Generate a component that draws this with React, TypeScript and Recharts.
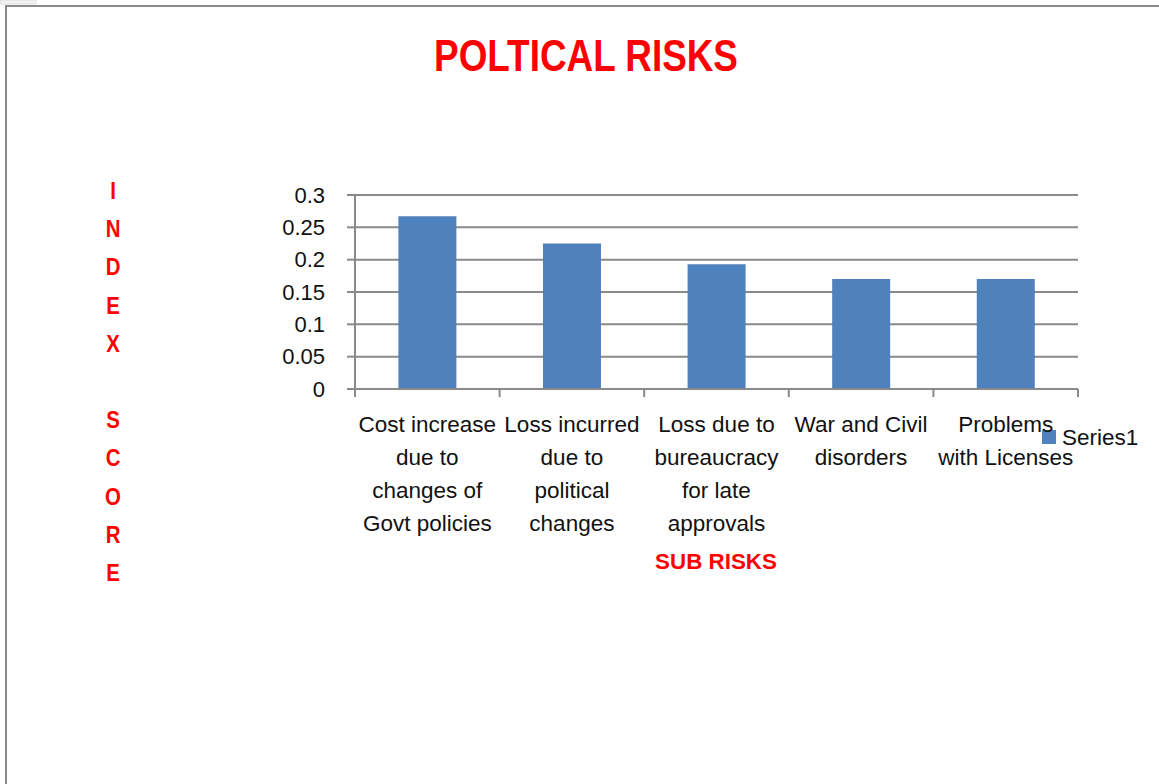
import React from "react";
import {
  BarChart,
  Bar,
  XAxis,
  YAxis,
  CartesianGrid,
  Customized,
} from "recharts";

// Sub-risk categories and their index scores
const categories = [
  "Cost increase due to changes of Govt policies",
  "Loss incurred due to political changes",
  "Loss due to bureaucracy for late approvals",
  "War and Civil disorders",
  "Problems with Licenses",
];
const indexScores = [0.267, 0.225, 0.193, 0.17, 0.17];
const yTicks = [0, 0.05, 0.1, 0.15, 0.2, 0.25, 0.3];

// Wrapped category labels, one entry per line
const categoryLines = [
  ["Cost increase", "due to", "changes of", "Govt policies"],
  ["Loss incurred", "due to", "political", "changes"],
  ["Loss due to", "bureaucracy", "for late", "approvals"],
  ["War and Civil", "disorders"],
  ["Problems", "with Licenses"],
];

const seriesName = "Series1";
const chartTitle = "POLTICAL RISKS";
const xTitle = "SUB RISKS";
const yTitle = "INDEX SCORE";

const data = categories.map((name, i) => ({ name, value: indexScores[i] }));

const W = 1159;
const H = 784;
const PLOT_LEFT = 355;
const PLOT_RIGHT = 1078;
const PLOT_TOP = 195;
const PLOT_BOTTOM = 389;
const Y_AXIS_W = 60;
const X_AXIS_H = 170;
const BAND = (PLOT_RIGHT - PLOT_LEFT) / categories.length;

const BAR_COLOR = "#4f81bd";
const AXIS_COLOR = "#8a8a8a";
const RED = "#ff0000";
const TEXT = "#111";
const FONT = "'Liberation Sans', Arial, sans-serif";

const XTick = (props: any) => {
  const { x, y, index } = props;
  const axisY = y - 8;
  const lines = categoryLines[index] || [];
  const last = index === categories.length - 1;
  return (
    <g>
      <line x1={x - BAND / 2} x2={x - BAND / 2} y1={axisY} y2={axisY + 8} stroke={AXIS_COLOR} strokeWidth={2} />
      {last && (
        <line x1={x + BAND / 2} x2={x + BAND / 2} y1={axisY} y2={axisY + 8} stroke={AXIS_COLOR} strokeWidth={2} />
      )}
      <text textAnchor="middle" fontFamily={FONT} fontSize={22.5} fill={TEXT}>
        {lines.map((l, i) => (
          <tspan key={i} x={x} y={axisY + 43 + i * 33}>
            {l}
          </tspan>
        ))}
      </text>
    </g>
  );
};

const Decorations = () => {
  const letters = yTitle.split("");
  return (
    <g>
      <rect x={0} y={0} width={36} height={4} fill="#f2f2f2" stroke="#e0e0e0" strokeWidth={1} />
      <line x1={5} y1={6} x2={W} y2={6} stroke={AXIS_COLOR} strokeWidth={2} />
      <line x1={6} y1={5} x2={6} y2={H} stroke={AXIS_COLOR} strokeWidth={2} />
      {/* condensed bold title */}
      <g transform="translate(586,71) scale(0.82,1)">
        <text x={0} y={0} textAnchor="middle" fontFamily={FONT} fontWeight="bold" fontSize={45} fill={RED}>
          {chartTitle}
        </text>
      </g>
      <text x={716} y={569} textAnchor="middle" fontFamily={FONT} fontWeight="bold" fontSize={22.4} fill={RED}>
        {xTitle}
      </text>
      <g transform="translate(113,0) scale(0.85,1)">
        <text textAnchor="middle" fontFamily={FONT} fontWeight="bold" fontSize={24} fill={RED}>
          {letters.map((ch, i) => (
            <tspan key={i} x={0} y={199 + i * 38.2}>
              {ch === " " ? "\u00a0" : ch}
            </tspan>
          ))}
        </text>
      </g>
      <rect x={1042} y={430} width={14} height={14} fill={BAR_COLOR} />
      <text x={1062} y={445} fontFamily={FONT} fontSize={22.5} fill={TEXT}>
        {seriesName}
      </text>
    </g>
  );
};

export default function App() {
  return (
    <div style={{ position: "absolute", left: 0, top: 0, width: W, height: H, background: "#fff" }}>
      <BarChart
        width={W}
        height={H}
        data={data}
        margin={{
          top: PLOT_TOP,
          right: W - PLOT_RIGHT,
          left: PLOT_LEFT - Y_AXIS_W,
          bottom: H - PLOT_BOTTOM - X_AXIS_H,
        }}
        barCategoryGap="30%"
      >
        <CartesianGrid vertical={false} stroke={AXIS_COLOR} strokeWidth={2} />
        <XAxis
          dataKey="name"
          height={X_AXIS_H}
          interval={0}
          tickLine={false}
          tickSize={8}
          tickMargin={0}
          axisLine={{ stroke: AXIS_COLOR, strokeWidth: 2 }}
          tick={<XTick />}
        />
        <YAxis
          width={Y_AXIS_W}
          domain={[0, 0.3]}
          ticks={yTicks}
          interval={0}
          tickSize={8}
          tickMargin={22}
          axisLine={{ stroke: AXIS_COLOR, strokeWidth: 2 }}
          tickLine={{ stroke: AXIS_COLOR, strokeWidth: 2 }}
          tick={{ fill: TEXT, fontSize: 22, fontFamily: FONT }}
        />
        <Bar dataKey="value" name={seriesName} fill={BAR_COLOR} isAnimationActive={false} />
        <Customized component={Decorations} />
      </BarChart>
    </div>
  );
}
